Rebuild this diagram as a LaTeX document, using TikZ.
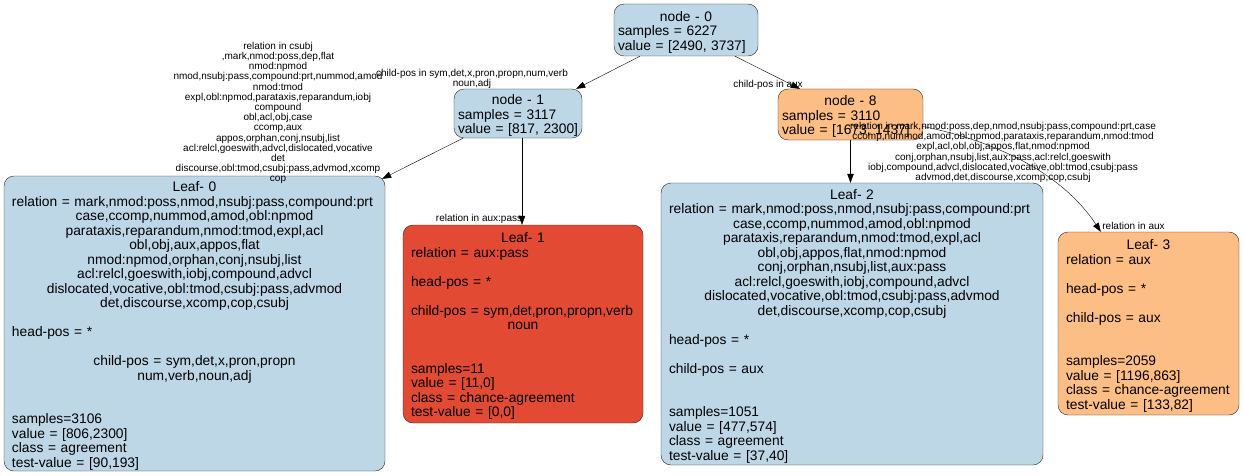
\documentclass[tikz,border=0pt]{standalone}
\usepackage{fontspec}
\setmainfont{Liberation Sans}
\usetikzlibrary{arrows.meta}

\definecolor{splitblue}{HTML}{BDD7E7}
\definecolor{splitorange}{HTML}{FDBE85}
\definecolor{splitred}{HTML}{E34A33}

% one line of a box, centred or flush left
\newcommand\ctr[1]{\par\hbox to\hsize{\hss#1\hss}}
\newcommand\lft[1]{\par\hbox to\hsize{#1\hss}}

\begin{document}
\begin{tikzpicture}[
  x=1pt,y=-1pt,
  every node/.style={font=\fontsize{13.8}{14.5}\selectfont},
  split/.style={draw=black!85,rounded corners=10pt,inner xsep=4pt,
                inner ysep=0pt,fill=splitblue},
  leaf/.style={split,inner xsep=8pt},
  cond/.style={font=\fontsize{10}{10.2}\selectfont,align=center,
               inner sep=0pt},
  edge/.style={-{Triangle[length=9pt,width=6.5pt]},black}
]
\useasboundingbox (0,0) rectangle (1244,476);

% inner nodes
\node[split,text width=136pt,minimum height=52pt] (n0) at (686,30)
  {\ctr{node - 0}\lft{samples = 6227}\lft{value = [2490, 3737]}};
\node[split,text width=120pt,minimum height=49pt] (n1) at (518,113.5)
  {\ctr{node - 1}\lft{samples = 3117}\lft{value = [817, 2300]}};
\node[split,fill=splitorange,text width=137pt,minimum height=51pt] (n8)
  at (850.5,114.5)
  {\ctr{node - 8}\lft{samples = 3110}\lft{value = [1673, 1437]}};

% leaves
\node[leaf,text width=365pt,minimum height=295pt] (l0) at (194.5,323.5)
  {\ctr{Leaf- 0}
   \lft{relation = mark,nmod:poss,nmod,nsubj:pass,compound:prt}
   \ctr{case,ccomp,nummod,amod,obl:npmod}
   \ctr{parataxis,reparandum,nmod:tmod,expl,acl}
   \ctr{obl,obj,aux,appos,flat}
   \ctr{nmod:npmod,orphan,conj,nsubj,list}
   \ctr{acl:relcl,goeswith,iobj,compound,advcl}
   \ctr{dislocated,vocative,obl:tmod,csubj:pass,advmod}
   \ctr{det,discourse,xcomp,cop,csubj}
   \lft{}
   \lft{head-pos = *}
   \lft{}
   \ctr{child-pos = sym,det,x,pron,propn}
   \ctr{num,verb,noun,adj}
   \lft{}
   \lft{}
   \lft{samples=3106}
   \lft{value = [806,2300]}
   \lft{class = agreement}
   \lft{test-value = [90,193]}};
\node[leaf,fill=splitred,text width=224pt,minimum height=198pt] (l1)
  at (523,324)
  {\ctr{Leaf- 1}
   \lft{relation = aux:pass}
   \lft{}
   \lft{head-pos = *}
   \lft{}
   \lft{child-pos = sym,det,pron,propn,verb}
   \ctr{noun}
   \lft{}
   \lft{}
   \lft{samples=11}
   \lft{value = [11,0]}
   \lft{class = chance-agreement}
   \lft{test-value = [0,0]}};
\node[leaf,text width=366pt,minimum height=282pt] (l2) at (852,324)
  {\ctr{Leaf- 2}
   \lft{relation = mark,nmod:poss,nmod,nsubj:pass,compound:prt}
   \ctr{case,ccomp,nummod,amod,obl:npmod}
   \ctr{parataxis,reparandum,nmod:tmod,expl,acl}
   \ctr{obl,obj,appos,flat,nmod:npmod}
   \ctr{conj,orphan,nsubj,list,aux:pass}
   \ctr{acl:relcl,goeswith,iobj,compound,advcl}
   \ctr{dislocated,vocative,obl:tmod,csubj:pass,advmod}
   \ctr{det,discourse,xcomp,cop,csubj}
   \lft{}
   \lft{head-pos = *}
   \lft{}
   \lft{child-pos = aux}
   \lft{}
   \lft{}
   \lft{samples=1051}
   \lft{value = [477,574]}
   \lft{class = agreement}
   \lft{test-value = [37,40]}};
\node[leaf,fill=splitorange,text width=165pt,minimum height=183pt] (l3)
  at (1148.5,323.5)
  {\ctr{Leaf- 3}
   \lft{relation = aux}
   \lft{}
   \lft{head-pos = *}
   \lft{}
   \lft{child-pos = aux}
   \lft{}
   \lft{}
   \lft{samples=2059}
   \lft{value = [1196,863]}
   \lft{class = chance-agreement}
   \lft{test-value = [133,82]}};

% connectors
\draw[edge] ([xshift=-46pt]n0.south) -- ([xshift=-6pt]n1.north east);
\draw[edge] ([xshift=49pt]n0.south) -- ([xshift=22pt]n8.north west);
\draw[edge] ([xshift=-55pt]n1.south)
  -- ([xshift=-3pt,yshift=-3pt]l0.north east);
\draw[edge] ([xshift=4pt]n1.south) -- ([xshift=-1pt]l1.north);
\draw[edge] (n8.south) -- ([xshift=-1.5pt]l2.north);
\draw[edge] ([yshift=-12pt]n8.east)
  .. controls (990,140) and (1060,170) .. ([xshift=43pt]l3.north west);

% split conditions
\node[cond] (lblN1) at (472,79)
  {child-pos in sym,det,x,pron,propn,num,verb\\noun,adj};
\node[cond] (lblN8) at (768,85) {child-pos in aux};
\node[cond] (lblL0) at (278,113)
  {relation in csubj\\,mark,nmod:poss,dep,flat\\nmod:npmod\\
   nmod,nsubj:pass,compound:prt,nummod,amod\\nmod:tmod\\
   expl,obl:npmod,parataxis,reparandum,iobj\\compound\\
   obl,acl,obj,case\\ccomp,aux\\appos,orphan,conj,nsubj,list\\
   acl:relcl,goeswith,advcl,dislocated,vocative\\det\\
   discourse,obl:tmod,csubj:pass,advmod,xcomp\\cop};
\node[cond] (lblL1) at (479,219) {relation in aux:pass};
\node[cond] (lblL2) at (1003,152.5)
  {relation in mark,nmod:poss,dep,nmod,nsubj:pass,compound:prt,case\\
   ccomp,nummod,amod,obl:npmod,parataxis,reparandum,nmod:tmod\\
   expl,acl,obl,obj,appos,flat,nmod:npmod\\
   conj,orphan,nsubj,list,aux:pass,acl:relcl,goeswith\\
   iobj,compound,advcl,dislocated,vocative,obl:tmod,csubj:pass\\
   advmod,det,discourse,xcomp,cop,csubj};
\node[cond] (lblL3) at (1133.5,226) {relation in aux};
\end{tikzpicture}
\end{document}
